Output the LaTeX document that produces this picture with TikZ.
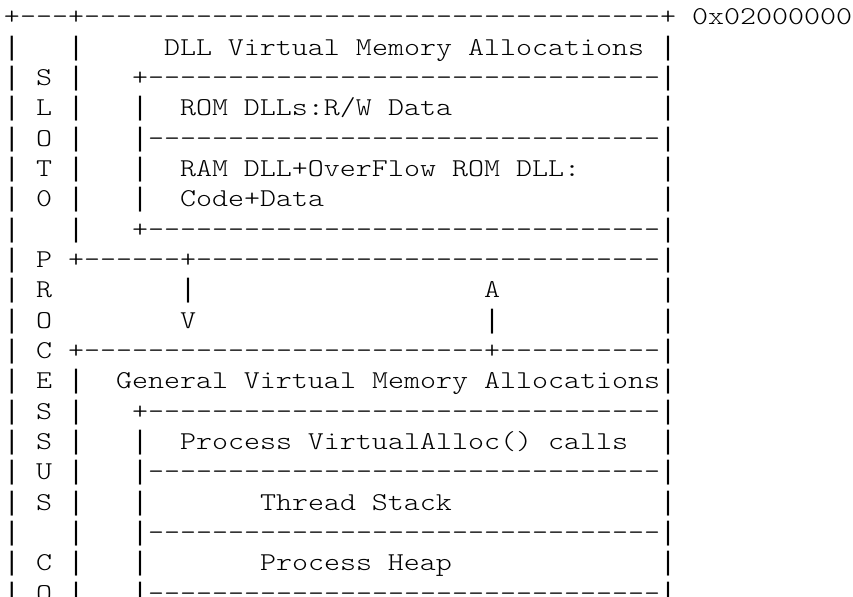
\documentclass[tikz,border=0pt]{standalone}
\usepackage{fontspec}
\setmonofont[FakeStretch=1.186]{lmmonolt10-regular.otf}
\newfontfamily\barfamily{Liberation Mono}

\newcommand\asciifont{\fontsize{25.7pt}{30pt}\selectfont\ttfamily}
\newcommand\dashrun[1]{\foreach \i in {1,...,#1}{-}}
\newcommand\vb{{\barfamily\fontsize{26.67pt}{30pt}\selectfont|}}

\tikzset{
  ascii/.style={font=\asciifont, anchor=base west, inner sep=0pt, outer sep=0pt},
}

\begin{document}
\begin{tikzpicture}[x=16pt, y=-30.33pt]
    \useasboundingbox (-0.25,-0.8243) rectangle (53.0625,18.859);
    \clip (-0.25,-0.8243) rectangle (53.0625,18.859);

    % bordo superiore e indirizzo
    \node[ascii] (top) at (0,0) {+\dashrun{3}+\dashrun{36}+};
    \node[ascii] (addr) at (43,0) {0x02000000};

    % cornice esterna
    \foreach \r in {1,...,19}
        \node[ascii] (left\r) at (0,\r) {\vb};
    \foreach \r in {1,3,5,6,9,10,12,14,16,18}
        \node[ascii] (right\r) at (41,\r) {\vb};

    % colonna delle lettere
    \foreach \ch [count=\r from 2] in {S,L,O,T,0}
        \node[ascii] (slot\r) at (2,\r) {\ch};
    \foreach \ch [count=\r from 8] in {P,R,O,C,E,S,S,U,S}
        \node[ascii] (proc\r) at (2,\r) {\ch};
    \foreach \ch [count=\r from 18] in {C,O}
        \node[ascii] (code\r) at (2,\r) {\ch};

    % separatore verticale
    \foreach \r in {1,2,3,4,5,6,7,12,13,14,15,16,17,18,19}
        \node[ascii] (sep\r) at (4,\r) {\vb};

    % blocco DLL
    \node[ascii] (dlltitle) at (10,1) {DLL Virtual Memory Allocations};
    \node[ascii] (dlltop) at (8,2) {+\dashrun{32}};
    \node[ascii] (romdll) at (11,3) {ROM DLLs:R/W Data};
    \node[ascii] (dllmid) at (9,4) {\dashrun{32}};
    \node[ascii] (ramdll) at (11,5) {RAM DLL+OverFlow ROM DLL:};
    \node[ascii] (ramcode) at (11,6) {Code+Data};
    \node[ascii] (dllbot) at (8,7) {+\dashrun{32}};
    \foreach \r in {2,4,7}
        \node[ascii] (dllend\r) at (41,\r) {\vb};
    \foreach \r in {3,4,5,6}
        \node[ascii] (dllbar\r) at (8,\r) {\vb};

    % zona libera con le frecce
    \node[ascii] (freetop) at (4,8) {+\dashrun{6}+\dashrun{29}};
    \node[ascii] (downbar) at (11,9) {\vb};
    \node[ascii] (downtip) at (11,10) {V};
    \node[ascii] (uptip) at (30,9) {A};
    \node[ascii] (upbar) at (30,10) {\vb};
    \node[ascii] (freebot) at (4,11) {+\dashrun{25}+\dashrun{10}};
    \foreach \r in {8,11}
        \node[ascii] (freeend\r) at (41,\r) {\vb};

    % blocco generale
    \node[ascii] (gentitle) at (7,12) {General Virtual Memory Allocations};
    \node[ascii] (gentop) at (8,13) {+\dashrun{32}};
    \node[ascii] (valloc) at (11,14) {Process VirtualAlloc() calls};
    \node[ascii] (genmid1) at (9,15) {\dashrun{32}};
    \node[ascii] (stack) at (16,16) {Thread Stack};
    \node[ascii] (genmid2) at (9,17) {\dashrun{32}};
    \node[ascii] (heap) at (16,18) {Process Heap};
    \node[ascii] (genmid3) at (9,19) {\dashrun{32}};
    \foreach \r in {13,15,17,19}
        \node[ascii] (genend\r) at (41,\r) {\vb};
    \foreach \r in {14,15,16,17,18,19}
        \node[ascii] (genbar\r) at (8,\r) {\vb};
\end{tikzpicture}
\end{document}
